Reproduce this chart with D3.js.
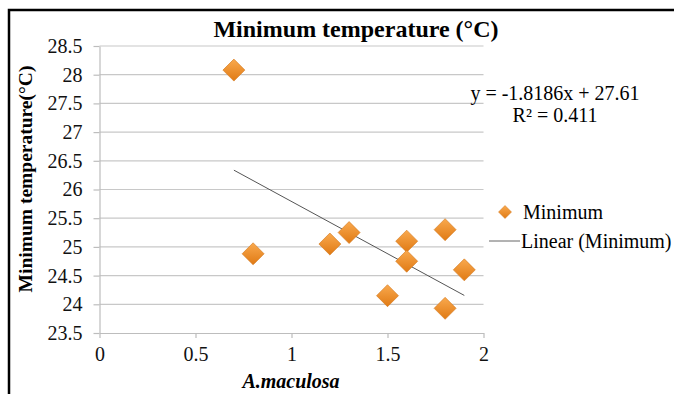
<!DOCTYPE html>
<html lang="en">
<head>
  <meta charset="UTF-8">
  <title>Minimum temperature</title>
  <script src="https://d3js.org/d3.v7.min.js"></script>
  <style>
    body {
      margin: 0;
      background: #fff;
      font-family: "Liberation Serif", "Times New Roman", serif;
    }
  </style>
</head>
<body>
  <script>
    const width = 674;
    const height = 394;

    // data
    const xValues = [0.7, 0.8, 1.2, 1.3, 1.5, 1.6, 1.6, 1.8, 1.8, 1.9];
    const yValues = [28.08, 24.88, 25.05, 25.25, 24.15, 25.1, 24.75, 25.3, 23.93, 24.6];
    const xTicks = [0, 0.5, 1, 1.5, 2];
    const yTicks = [23.5, 24, 24.5, 25, 25.5, 26, 26.5, 27, 27.5, 28, 28.5];
    const slope = -1.8186;
    const intercept = 27.61;
    const rSquared = 0.411;

    const svg = d3.select("body")
      .append("svg")
      .attr("width", width)
      .attr("height", height);

    // frame (only top and left edges are visible)
    svg.append("path")
      .attr("d", `M9,${height} V10 H${width}`)
      .attr("fill", "none")
      .attr("stroke", "#000")
      .attr("stroke-width", 2.5);

    const x = d3.scaleLinear().domain([0, 2]).range([99.5, 483.5]);
    const y = d3.scaleLinear().domain([23.5, 28.5]).range([333, 46]);

    // gradient for the diamonds
    const defs = svg.append("defs");
    const grad = defs.append("linearGradient")
      .attr("id", "orange")
      .attr("x1", 0).attr("y1", 0).attr("x2", 0).attr("y2", 1);
    grad.append("stop").attr("offset", "0%").attr("stop-color", "#f9a94e");
    grad.append("stop").attr("offset", "100%").attr("stop-color", "#e07a14");

    // gridlines
    svg.append("g")
      .selectAll("line")
      .data(yTicks.slice(1))
      .enter().append("line")
      .attr("x1", x(0)).attr("x2", x(2))
      .attr("y1", d => y(d)).attr("y2", d => y(d))
      .attr("stroke", "#c8c8c8")
      .attr("stroke-width", 1.2);

    // y axis
    const yAxis = svg.append("g")
      .attr("transform", `translate(${x(0)},0)`)
      .call(d3.axisLeft(y).tickValues(yTicks).tickFormat(d => d).tickSize(6).tickPadding(11).tickSizeOuter(0));
    // x axis
    const xAxis = svg.append("g")
      .attr("transform", `translate(0,${y(23.5)})`)
      .call(d3.axisBottom(x).tickValues(xTicks).tickFormat(d => d).tickSize(5).tickPadding(9).tickSizeOuter(0));

    [yAxis, xAxis].forEach(g => {
      g.attr("font-family", "'Liberation Serif', serif").attr("font-size", 20);
      g.select(".domain").attr("stroke", "#bdbdbd").attr("stroke-width", 1.2);
      g.selectAll(".tick line").attr("stroke", "#bdbdbd").attr("stroke-width", 1.2);
      g.selectAll(".tick text").attr("fill", "#111");
    });

    // trend line over the data range
    const xr = d3.extent(xValues);
    svg.append("line")
      .attr("x1", x(xr[0])).attr("y1", y(slope * xr[0] + intercept))
      .attr("x2", x(xr[1])).attr("y2", y(slope * xr[1] + intercept))
      .attr("stroke", "#555")
      .attr("stroke-width", 1);

    // points
    const diamond = s => `M0,${-s} L${s},0 L0,${s} L${-s},0 Z`;
    svg.append("g")
      .selectAll("path")
      .data(xValues.map((v, i) => [v, yValues[i]]))
      .enter().append("path")
      .attr("transform", d => `translate(${x(d[0])},${y(d[1])})`)
      .attr("d", diamond(11))
      .attr("fill", "url(#orange)")
      .attr("stroke", "#d2761a")
      .attr("stroke-width", 0.6);

    // titles
    svg.append("text")
      .attr("x", 356).attr("y", 37)
      .attr("text-anchor", "middle")
      .style("font-weight", "bold")
      .style("font-size", "24px")
      .text("Minimum temperature (°C)");

    svg.append("text")
      .attr("transform", "translate(32,179) rotate(-90)")
      .attr("text-anchor", "middle")
      .style("font-weight", "bold")
      .style("font-size", "19.5px")
      .text("Minimum temperature(°C)");

    svg.append("text")
      .attr("x", 291).attr("y", 388)
      .attr("text-anchor", "middle")
      .style("font-weight", "bold")
      .style("font-style", "italic")
      .style("font-size", "20px")
      .text("A.maculosa");

    // equation
    svg.append("text")
      .attr("x", 555).attr("y", 100)
      .attr("text-anchor", "middle")
      .style("font-size", "20px")
      .text(`y = ${slope}x  + ${intercept}`);
    svg.append("text")
      .attr("x", 555).attr("y", 122)
      .attr("text-anchor", "middle")
      .style("font-size", "20px")
      .text(`R² = ${rSquared}`);

    // legend
    const legend = svg.append("g");
    legend.append("path")
      .attr("transform", "translate(505,212)")
      .attr("d", diamond(6.5))
      .attr("fill", "url(#orange)")
      .attr("stroke", "#d2761a")
      .attr("stroke-width", 0.5);
    legend.append("text")
      .attr("x", 523).attr("y", 219)
      .style("font-size", "20px")
      .text("Minimum");
    legend.append("line")
      .attr("x1", 489).attr("x2", 520)
      .attr("y1", 241).attr("y2", 241)
      .attr("stroke", "#666")
      .attr("stroke-width", 1);
    legend.append("text")
      .attr("x", 521).attr("y", 248)
      .style("font-size", "20px")
      .text("Linear (Minimum)");
  </script>
</body>
</html>
